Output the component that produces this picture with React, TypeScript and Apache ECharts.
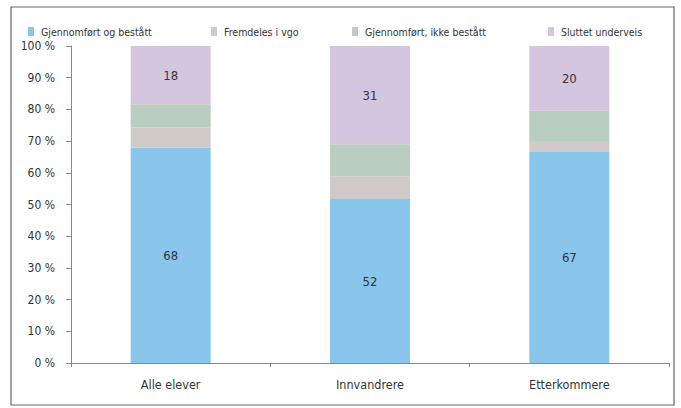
import React, { useEffect, useRef } from "react";
import * as echarts from "echarts";

const categories = ["Alle elever", "Innvandrere", "Etterkommere"];
const seriesNames = [
  "Gjennomført og bestått",
  "Fremdeles i vgo",
  "Gjennomført, ikke bestått",
  "Sluttet underveis",
];
const completedPassed = [68, 51.7, 66.6];
const stillInSchool = [6.4, 7.2, 3.4];
const completedNotPassed = [7.2, 10.1, 9.6];
const droppedOut = [18.4, 31, 20.4];
const yTickLabels = ["0 %", "10 %", "20 %", "30 %", "40 %", "50 %", "60 %", "70 %", "80 %", "90 %", "100 %"];

const colors = ["#8AC6EC", "#CFCAC9", "#B9CDC1", "#D5C6E0"];
const FONT = "'DejaVu Sans Condensed', 'Liberation Sans Narrow', sans-serif";

export default function App() {
  const ref = useRef<HTMLDivElement>(null);
  useEffect(() => {
    if (!ref.current) return;
    const chart = echarts.init(ref.current, undefined, { renderer: "svg" });
    const values = [completedPassed, stillInSchool, completedNotPassed, droppedOut];
    const labelShown = [true, false, false, true];
    const legendLeft = [23, 206, 347, 543];
    chart.setOption({
      animation: false,
      textStyle: { fontFamily: FONT },
      graphic: [
        {
          type: "rect",
          shape: { x: 11, y: 7, width: 663, height: 398 },
          style: { fill: "none", stroke: "#666", lineWidth: 1.2 },
          silent: true,
        },
      ],
      legend: seriesNames.map((n, i) => ({
        data: [n],
        left: legendLeft[i],
        top: 21,
        itemWidth: 6,
        itemHeight: 9,
        itemGap: 4,
        icon: "rect",
        textStyle: { fontFamily: FONT, fontSize: 10.5, color: "#333", padding: [0, 0, 0, 2] },
      })),
      grid: { left: 71, right: 12, top: 46, bottom: 45 },
      xAxis: {
        type: "category",
        data: categories,
        axisLine: { lineStyle: { color: "#888" } },
        axisTick: { show: true, length: 4, lineStyle: { color: "#888" } },
        axisLabel: { fontFamily: FONT, fontSize: 12.5, color: "#333", margin: 15 },
      },
      yAxis: {
        type: "value",
        min: 0,
        max: 100,
        interval: 10,
        splitLine: { show: false },
        axisLine: { show: true, lineStyle: { color: "#888" } },
        axisTick: { show: true, length: 5, lineStyle: { color: "#888" } },
        axisLabel: {
          fontFamily: FONT,
          fontSize: 12,
          color: "#333",
          margin: 16,
          formatter: (v: number) => yTickLabels[Math.round(v / 10)],
        },
      },
      series: seriesNames.map((n, i) => ({
        name: n,
        type: "bar",
        stack: "total",
        barWidth: 80,
        data: values[i],
        itemStyle: { color: colors[i] },
        label: {
          show: labelShown[i],
          position: "inside",
          fontFamily: FONT,
          fontSize: 13,
          color: "#333",
          formatter: (p: any) => String(Math.round(p.value)),
        },
      })),
    });
    return () => chart.dispose();
  }, []);
  return (
    <div
      ref={ref}
      style={{ position: "fixed", left: 0, top: 0, width: 681, height: 408, background: "#fff" }}
    />
  );
}
